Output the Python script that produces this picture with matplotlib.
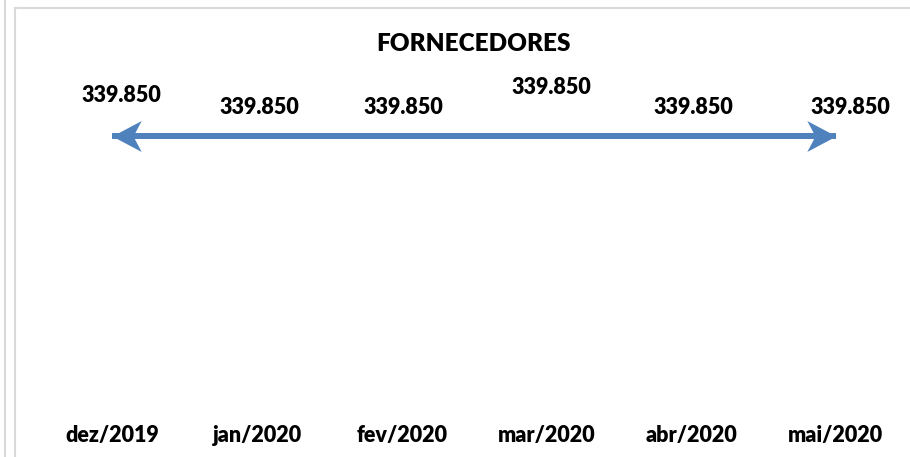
import matplotlib.pyplot as plt
from matplotlib.lines import Line2D
from matplotlib.path import Path

# Data
months = ["dez/2019", "jan/2020", "fev/2020", "mar/2020", "abr/2020", "mai/2020"]
values = [339850, 339850, 339850, 339850, 339850, 339850]

# label offsets in pixels (dx, dy) - Excel placed them unevenly
label_offsets = [(9, 41), (2, 29), (2, 29), (5, 49), (2, 29), (15, 29)]

plt.rcParams['font.family'] = ['Lato', 'DejaVu Sans']
blue = '#4F81BD'

W, H = 910, 457
fig = plt.figure(figsize=(W / 100, H / 100), dpi=100)
ax = fig.add_axes([40 / W, 42 / H, 868 / W, 328 / H])

x = list(range(len(months)))
ax.plot(x, values, color=blue, lw=4.3, solid_capstyle='butt', zorder=2)

# stealth arrow heads at both ends
left_head = Path([(0, 0), (1, 0.53), (0.72, 0), (1, -0.53), (0, 0)],
                 [Path.MOVETO, Path.LINETO, Path.LINETO, Path.LINETO, Path.CLOSEPOLY])
right_head = Path([(0, 0), (-1, 0.53), (-0.72, 0), (-1, -0.53), (0, 0)],
                  [Path.MOVETO, Path.LINETO, Path.LINETO, Path.LINETO, Path.CLOSEPOLY])
ax.plot(x[0], values[0], marker=left_head, ms=42, color=blue, mew=0, ls='none', zorder=3)
ax.plot(x[-1], values[-1], marker=right_head, ms=42, color=blue, mew=0, ls='none', zorder=3)

for xi, v, (dx, dy) in zip(x, values, label_offsets):
    ax.annotate(f"{v:,}".replace(",", "."), (xi, v), xytext=(dx, dy),
                textcoords='offset pixels', ha='center', va='center',
                fontsize=15.5, fontweight='heavy')

ax.set_xlim(-0.5, len(months) - 0.5)
ax.set_ylim(0, 400000)
ax.set_xticks(x)
ax.set_xticklabels(months, fontsize=15.5, fontweight='heavy')
ax.tick_params(axis='x', length=0, pad=7)
ax.set_yticks([])
for s in ax.spines.values():
    s.set_visible(False)

fig.text(473 / W, 1 - 44 / H, "FORNECEDORES", ha='center', va='center',
         fontsize=17.5, fontweight='heavy')

# sheet borders
grey = '#d9d9d9'
fig.add_artist(Line2D([5 / W, 5 / W], [0, 1], color=grey, lw=1.5))
fig.add_artist(Line2D([15 / W, 15 / W], [0, 1 - 8 / H], color=grey, lw=1.5))
fig.add_artist(Line2D([15 / W, 1], [1 - 8 / H, 1 - 8 / H], color=grey, lw=1.5))

fig.savefig("out.png", dpi=100)
